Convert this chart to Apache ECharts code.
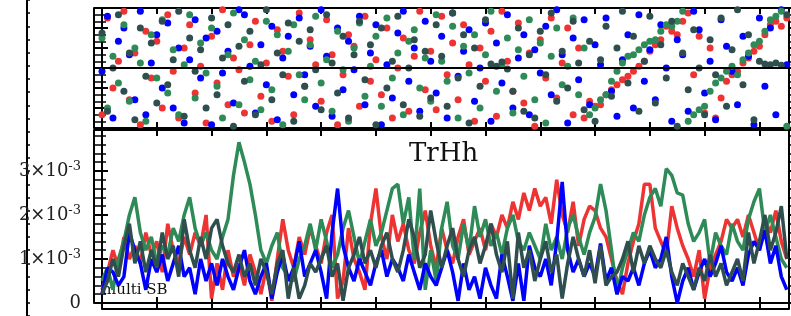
<!DOCTYPE html>
<html>
<head>
<meta charset="utf-8">
<script src="https://cdn.jsdelivr.net/npm/echarts@6/dist/echarts.min.js"></script>
<style>
  html, body { margin: 0; padding: 0; background: #fff; }
  #chart { width: 791px; height: 316px; }
</style>
</head>
<body>
<div id="chart"></div>
<script>
// phase of each channel (degrees), one point per sample
var redPhase = [-140,150,-60,20,170,-95,45,-170,110,-30,80,-120,160,-10,-150,60,130,-75,5,-165,
  95,-45,175,-110,30,-5,-135,70,140,-85,15,-160,115,50,-25,-140,165,-55,85,10,
  -100,145,40,-170,-20,100,65,-115,155,-40,25,-80,120,-150,0,90,-130,35,170,-65,
  50,-125,155,-20,75,-95,130,10,-160,60,-40,110,-145,170,20,-70,135,-105,45,-175,
  85,-30,150,-90,15,120,-140,60,-150,-100,-115,-110,-80,-65,-50,-35,-25,-10,5,20,
  50,70,85,125,110,100,140,165,-20,95,-135,60,-150,-90,-40,-20,-10,15,30,50,
  65,100,130,140,125,150];
var greenPhase = [90,-120,35,-45,130,-100,60,15,-160,100,-30,145,-75,55,-140,10,160,-90,75,-15,
  120,-55,-150,40,165,-110,85,-35,20,-125,140,-65,100,-170,50,130,-20,-95,70,155,
  -45,25,-130,110,-5,-160,60,135,-85,5,95,-115,150,-30,45,-140,80,115,-60,30,
  -100,160,20,-40,125,-150,65,-15,100,-120,40,170,-70,10,90,-135,55,-25,145,-95,
  75,-165,35,120,-50,5,150,-80,60,-140,-120,-95,-80,-40,-10,15,35,40,55,70,
  80,85,110,130,125,140,170,-160,-140,-125,-115,-70,-45,-30,-10,5,-20,25,45,70,
  80,110,145,155,170,-175];
var bluePhase = [-10,155,-150,80,120,40,-95,170,-140,15,100,-60,135,-120,60,-165,25,145,-30,90,
  -170,110,-15,50,-105,175,160,5,-135,70,-50,125,-155,30,95,-80,150,-20,65,-115,
  175,35,-145,120,-65,80,-5,155,-110,45,130,-170,10,-90,105,170,-40,60,-130,140,
  20,-75,95,-150,165,-25,50,115,-100,0,135,-160,75,-45,160,-120,30,100,-140,55,
  -15,125,-80,175,40,-165,90,-35,145,-110,70,10,150,-70,-145,25,100,-120,160,-40,
  55,-95,130,0,-160,85,40,-130,170,115,-75,20,-155,145,65,-10,-110,95,35,-170,
  150,-55,120,-140,175,10];
var slatePhase = [105,-130,0,160,-70,45,-155,120,-25,75,-105,140,-50,25,170,-145,90,-10,55,-120,
  150,-80,30,130,-175,65,-40,110,-140,10,175,-95,45,-20,135,-160,80,-55,115,-5,
  -125,160,15,-75,95,-150,40,140,-35,70,-170,120,-60,20,155,-110,0,85,-145,50,
  -90,130,35,-115,165,-30,100,-165,60,-55,145,12,5,18,-3,-70,120,-130,40,-150,
  110,-20,165,-100,50,-60,140,15,-125,80,-160,25,125,-85,60,170,-45,95,-130,20,
  155,-105,70,-30,140,-175,45,-65,115,0,-140,85,-20,150,-115,55,175,-50,100,-155,
  20,12,10,15,8,160];

// TrHh amplitude of each channel, in units of 1e-3
var redAmp = [0.3,0.7,1.2,0.8,1.5,1.0,1.3,0.9,1.6,1.1,1.4,0.7,1.8,1.2,0.9,1.5,1.1,1.6,1.3,2.0,
  0.1,0.9,0.3,1.2,0.6,0.9,0.4,1.1,0.7,0.2,0.8,0.05,1.0,1.9,1.2,0.8,1.5,1.1,1.7,1.3,
  0.9,1.6,2.0,0.1,0.5,1.7,1.0,0.7,0.3,1.8,2.6,1.5,1.0,2.0,1.4,1.8,1.2,0.9,1.6,2.1,
  1.3,0.8,1.7,1.2,0.9,1.5,1.9,1.1,1.4,1.7,1.2,1.8,1.5,2.0,1.7,2.3,1.9,2.5,2.1,2.6,
  2.2,2.4,1.8,2.8,2.0,1.6,2.3,1.3,1.9,2.2,2.1,1.7,1.5,1.0,0.5,0.2,0.9,1.4,1.8,2.7,
  2.7,1.7,1.4,1.1,2.2,1.7,1.3,1.0,0.6,1.2,0.1,0.8,1.1,1.4,1.9,1.7,1.9,1.5,2.0,1.6,
  1.2,1.9,1.6,2.1,1.4,1.0];
var greenAmp = [0.5,0.8,0.3,1.0,1.4,2.0,2.4,1.6,1.2,1.5,0.9,1.3,1.1,1.7,1.4,2.0,2.4,1.7,1.3,1.6,
  1.2,1.0,1.5,1.9,2.9,3.65,3.2,2.7,2.0,1.2,0.9,1.3,1.6,0.8,0.6,0.5,1.0,1.3,1.8,1.2,
  1.9,1.4,0.8,1.1,1.7,2.1,1.5,0.9,1.4,1.9,1.3,1.6,2.1,2.6,2.7,1.8,2.4,1.0,2.6,0.3,
  1.2,0.5,1.7,2.3,1.3,1.0,1.8,1.2,2.2,1.5,1.9,1.3,1.6,1.1,1.7,2.0,1.4,1.2,1.6,1.3,
  1.0,1.8,1.2,1.5,1.0,1.7,2.0,1.5,1.1,1.6,1.95,2.7,2.1,1.2,0.2,0.8,1.2,1.6,1.4,2.0,
  2.4,2.6,2.2,3.05,2.9,2.5,2.45,1.8,1.4,1.6,1.9,0.9,1.6,1.3,1.1,1.8,1.4,1.2,1.9,2.3,
  2.6,1.6,2.0,1.5,1.0,0.8];
var blueAmp = [0.2,0.8,0.7,0.4,0.6,1.6,1.2,0.9,0.3,1.0,0.7,1.1,0.5,0.9,1.3,0.6,0.8,0.2,1.0,0.5,
  0.9,0.4,1.0,0.6,0.3,0.8,1.2,0.5,0.2,0.6,0.9,0.1,0.7,1.1,0.5,0.8,1.4,0.6,0.9,1.2,
  0.7,0.1,1.6,2.6,1.3,0.8,0.5,1.0,0.7,0.4,0.9,1.2,0.6,1.0,0.8,0.5,1.1,0.7,0.3,0.9,
  0.6,0.4,0.8,1.2,0.7,0.05,0.9,0.3,0.6,0.1,0.8,0.4,0.1,1.1,0.6,0.05,0.9,0.05,1.3,0.8,
  0.6,1.0,0.4,1.4,2.75,1.2,0.7,1.0,0.6,0.9,0.6,1.35,0.5,0.8,0.2,0.6,0.5,0.8,0.4,0.9,
  1.2,0.8,1.0,1.5,0.6,0.0,0.5,0.8,0.3,0.7,1.0,0.6,0.9,1.3,0.7,0.5,0.8,0.4,1.1,1.4,
  1.2,1.65,0.9,1.3,0.6,0.3];
var slateAmp = [0.2,0.5,1.0,0.6,1.3,1.8,0.9,1.4,0.7,1.2,0.8,1.6,1.0,1.3,0.6,1.9,1.2,0.8,1.5,1.0,
  1.7,1.9,1.3,0.9,0.7,1.1,0.6,0.9,0.4,1.0,0.7,0.2,0.9,1.2,0.1,0.8,0.1,0.4,0.9,0.7,
  1.0,1.3,0.6,0.9,0.05,0.8,1.1,1.5,0.9,1.2,0.8,1.3,1.6,1.0,0.7,1.2,1.9,1.5,0.8,1.1,
  2.1,1.4,0.8,1.3,1.7,1.0,0.6,1.2,1.5,0.9,1.3,1.8,1.1,0.7,1.4,0.1,1.6,0.8,1.2,0.5,
  1.0,1.4,0.7,1.1,0.1,0.9,1.5,1.0,0.6,1.2,0.45,1.3,0.4,0.6,0.7,1.0,1.4,0.7,1.3,0.9,
  1.3,1.0,0.8,1.2,0.7,0.4,0.9,0.6,0.3,0.8,0.5,1.1,0.6,0.9,0.4,0.7,1.0,0.5,1.6,0.9,
  1.4,2.0,1.2,1.6,2.2,1.0];

var colors = { red: '#ee3333', green: '#2e8b57', blue: '#0000ff', slate: '#2f4f4f' };
var serif = 'DejaVu Serif';

function pairs(arr) {
    return arr.map(function (v, i) { return [i, v]; });
}

var chart = echarts.init(document.getElementById('chart'), null, { renderer: 'canvas' });

var frame = { onZero: false, lineStyle: { color: '#000', width: 2 } };
var xBase = {
    type: 'value', min: 0, max: 125.4, interval: 10,
    axisLine: frame,
    axisTick: { inside: true, length: 6, lineStyle: { color: '#000', width: 2 } },
    axisLabel: { show: false }, splitLine: { show: false }
};
function xAx(grid, pos, extra) {
    return Object.assign({}, xBase, { gridIndex: grid, position: pos }, extra || {});
}
function yAx(grid, pos, range, extra) {
    return Object.assign({
        type: 'value', gridIndex: grid, position: pos,
        min: range[0], max: range[1], interval: range[2],
        axisLine: { show: true, onZero: false, lineStyle: { color: '#000', width: 2 } },
        axisTick: { inside: true, length: 8, lineStyle: { color: '#000', width: 2 } },
        minorTick: { show: true, splitNumber: range[3], length: 8, lineStyle: { color: '#000', width: 1.5 } },
        axisLabel: { show: false }, splitLine: { show: false }
    }, extra || {});
}

var phaseRange = [-180, 180, 60, 3];
var ampRange = [0, 3.93, 1, 5];

function scatter(name, data, extra) {
    return Object.assign({
        type: 'scatter', name: name, xAxisIndex: 0, yAxisIndex: 0,
        symbolSize: 7, itemStyle: { color: colors[name], opacity: 1 },
        data: pairs(data)
    }, extra || {});
}
function line(name, data) {
    return {
        type: 'line', name: name, xAxisIndex: 3, yAxisIndex: 3,
        showSymbol: false, lineStyle: { color: colors[name], width: 3.5 },
        data: pairs(data)
    };
}

chart.setOption({
    animation: false,
    title: {
        text: 'TrHh', left: 409, top: 141, padding: 0,
        textStyle: { fontFamily: serif, fontSize: 26, fontWeight: 'normal', color: '#111' }
    },
    grid: [
        { left: 102, top: 8, width: 687, height: 120 },
        { left: 102, top: 130, width: 687, height: 173 },
        { left: -98, top: 0, width: 100, height: 316 }
    ],
    xAxis: [
        xAx(0, 'bottom'),
        xAx(0, 'top'),
        xAx(1, 'top'),
        xAx(1, 'bottom'),
        xAx(1, 'bottom', { offset: 6 }),
        { type: 'value', gridIndex: 2, show: false }
    ],
    yAxis: [
        yAx(0, 'left', phaseRange, { axisTick: { inside: true, length: 6, lineStyle: { color: '#000', width: 2 } },
            minorTick: { show: true, splitNumber: 3, length: 4, lineStyle: { color: '#000', width: 1.5 } } }),
        yAx(0, 'left', phaseRange, { offset: 8 }),
        yAx(0, 'right', phaseRange, { axisTick: { inside: false, length: 5, lineStyle: { color: '#000', width: 2 } },
            minorTick: { show: true, splitNumber: 3, length: 3, lineStyle: { color: '#000', width: 1.5 } } }),
        yAx(1, 'left', ampRange, {
            axisTick: { inside: true, length: 6, lineStyle: { color: '#000', width: 2 } },
            minorTick: { show: true, splitNumber: 5, length: 4, lineStyle: { color: '#000', width: 1.5 } },
            axisLabel: {
                show: true, margin: 21, showMaxLabel: false,
                formatter: function (v) {
                    var n = Math.round(v);
                    return n === 0 ? '{m|0}' : '{m|' + n + '×10}{s|-3}';
                },
                rich: {
                    m: { fontFamily: serif, fontSize: 18, color: '#222', lineHeight: 22 },
                    s: { fontFamily: serif, fontSize: 13, color: '#222', verticalAlign: 'top', lineHeight: 14 }
                }
            }
        }),
        yAx(1, 'left', ampRange, { offset: 8 }),
        yAx(1, 'right', ampRange, { axisTick: { inside: false, length: 5, lineStyle: { color: '#000', width: 2 } },
            minorTick: { show: true, splitNumber: 5, length: 3, lineStyle: { color: '#000', width: 1.5 } } }),
        yAx(2, 'right', [0, 24, 1, 1], { axisTick: { inside: false, length: 3, lineStyle: { color: '#000', width: 1.5 } },
            minorTick: { show: false } })
    ],
    graphic: [{
        type: 'text', left: 102, top: 283, z: 0,
        style: { text: 'multi SB', fontFamily: serif, fontSize: 15, fill: '#111' }
    }],
    series: [
        scatter('red', redPhase, {
            markLine: {
                silent: true, symbol: 'none', label: { show: false },
                lineStyle: { color: '#000', width: 2, type: 'solid' },
                data: [{ yAxis: 0 }]
            }
        }),
        scatter('blue', bluePhase),
        scatter('green', greenPhase),
        scatter('slate', slatePhase),
        line('red', redAmp),
        line('green', greenAmp),
        line('blue', blueAmp),
        line('slate', slateAmp)
    ]
});
</script>
</body>
</html>
